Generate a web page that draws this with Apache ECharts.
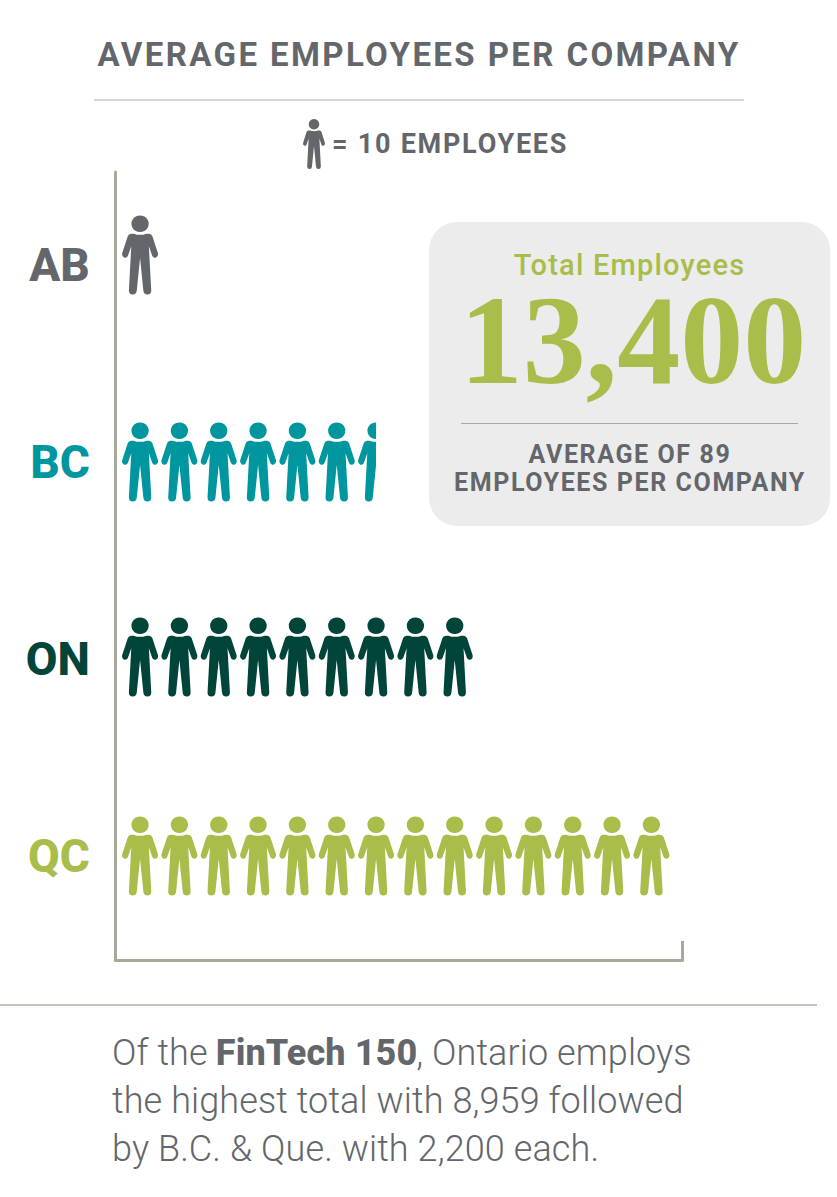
<!DOCTYPE html>
<html>
<head>
<meta charset="utf-8">
<title>Average employees per company</title>
<script src="https://cdn.jsdelivr.net/npm/echarts@6/dist/echarts.min.js"></script>
<style>
html, body { margin: 0; padding: 0; background: #fff; }
#chart { width: 837px; height: 1197px; }
/* zrender has no letter spacing option, the svg text picks it up from css */
#chart text[style*="33px"] { letter-spacing: 2.4px; }
#chart text[style*="27px"] { letter-spacing: 1.75px; }
#chart text[style*="25px"] { letter-spacing: 1.6px; }
#chart text[style*="29px"] { letter-spacing: 1.2px; }
#chart text[style*="36px"] { letter-spacing: .1px; }
</style>
</head>
<body>
<div id="chart"></div>
<script>
var provinces = ['AB', 'BC', 'ON', 'QC'];
var employees = [10, 65, 90, 140];
var colors = ['#63666a', '#00969f', '#00443a', '#a8bd4a'];
var iconOffsets = [-10, 0, -2, 0];

var GRAY = '#63666a';
var GREEN = '#a8bd4a';
var AXIS = '#a9a99a';

// person icon, drawn in a 105 x 238 box
var person = 'path://M52.5 0a25 25 0 1 1-.01 0ZM34 55Q52.5 62 71 55L79 55Q85 56 88 62L104.500 114Q106 124 98 127Q91 129 88 122L78 93L85 226Q85 238 74 238Q63 238 62 226L52.500 128L43 226Q42 238 31 238Q20 238 20 226L27 93L17 122Q14 129 7 127Q-1 124 .5 114L17 62Q20 56 26 55Z';

var chart = echarts.init(document.getElementById('chart'), null, { renderer: 'svg' });

var option = {
    animation: false,
    legend: {
        left: 303,
        top: 119,
        padding: 0,
        icon: person,
        itemWidth: 22,
        itemHeight: 51,
        itemGap: 0,
        selectedMode: false,
        textStyle: { color: GRAY, fontFamily: 'Roboto', fontWeight: 700, fontSize: 27, padding: [0, 0, 10, 2] }
    },
    grid: [
        { left: 120.4, top: 166.5, width: 590, height: 788 },
        // the frame is a bit lower than the rows, so it gets its own grid
        { left: 115.5, top: 172, width: 567, height: 788 }
    ],
    xAxis: [
        { type: 'value', gridIndex: 0, min: 0, max: 150, show: false },
        {
            type: 'value', gridIndex: 1, min: 0, max: 1, interval: 1,
            axisLine: { show: true, lineStyle: { color: AXIS, width: 3 } },
            axisTick: { show: true, inside: true, length: 19, lineStyle: { color: AXIS, width: 3 } },
            axisLabel: { show: false },
            splitLine: { show: false }
        }
    ],
    yAxis: [
        {
            type: 'category', gridIndex: 0, inverse: true, data: provinces,
            axisLine: { show: false },
            axisTick: { show: false },
            axisLabel: {
                margin: 30.5,
                fontFamily: 'Roboto',
                fontWeight: 800,
                fontSize: 46,
                color: function (value, index) {
                    return colors[index];
                }
            }
        },
        {
            type: 'value', gridIndex: 1, min: 0, max: 1, interval: 1,
            axisLine: { show: true, lineStyle: { color: AXIS, width: 3 } },
            axisTick: { show: false },
            axisLabel: { show: false },
            splitLine: { show: false }
        }
    ],
    series: [{
        type: 'pictorialBar',
        name: '= 10 EMPLOYEES',
        xAxisIndex: 0,
        yAxisIndex: 0,
        symbol: person,
        symbolSize: [36, 79],
        symbolRepeat: true,
        symbolClip: true,
        symbolMargin: '1.67!',
        symbolBoundingData: 150,
        itemStyle: { color: GRAY },
        data: employees.map(function (v, i) {
            return {
                value: v,
                symbolOffset: [0, iconOffsets[i]],
                itemStyle: { color: colors[i] }
            };
        })
    }],
    graphic: [
        { type: 'text', x: 419, y: 54, style: { text: 'AVERAGE EMPLOYEES PER COMPANY', fill: GRAY, font: '700 33px Roboto', textAlign: 'center', textVerticalAlign: 'middle' } },
        { type: 'line', shape: { x1: 94, y1: 100, x2: 744, y2: 100 }, style: { stroke: '#a9a9a9', lineWidth: 1 } },

        { type: 'rect', shape: { x: 429, y: 222, width: 401, height: 304, r: 28 }, style: { fill: '#ececec' }, z: -1 },
        { type: 'text', x: 629.5, y: 265, style: { text: 'Total Employees', fill: GREEN, font: '500 29px Roboto', textAlign: 'center', textVerticalAlign: 'middle' } },
        { type: 'text', x: 633, y: 340.5, style: { text: '13,400', fill: GREEN, font: 'bold 126px "Liberation Serif"', textAlign: 'center', textVerticalAlign: 'middle' } },
        { type: 'line', shape: { x1: 461, y1: 423.500, x2: 798, y2: 423.500 }, style: { stroke: '#a9a9a9', lineWidth: 1 } },
        { type: 'text', x: 630, y: 454, style: { text: 'AVERAGE OF 89', fill: GRAY, font: '700 25px Roboto', textAlign: 'center', textVerticalAlign: 'middle' } },
        { type: 'text', x: 630, y: 482, style: { text: 'EMPLOYEES PER COMPANY', fill: GRAY, font: '700 25px Roboto', textAlign: 'center', textVerticalAlign: 'middle' } },

        { type: 'line', shape: { x1: 0, y1: 1005, x2: 817, y2: 1005 }, style: { stroke: '#c4c4bb', lineWidth: 2 } },
        {
            type: 'text', x: 112, y: 1029,
            style: {
                text: 'Of the {b|FinTech 150}, Ontario employs\nthe highest total with 8,959 followed\nby B.C. & Que. with 2,200 each.',
                fill: GRAY,
                font: '300 36px Roboto',
                lineHeight: 48,
                rich: { b: { fontFamily: 'Roboto', fontWeight: 800, fontSize: 36, fill: GRAY, lineHeight: 48 } }
            }
        }
    ]
};

chart.setOption(option);
</script>
</body>
</html>
